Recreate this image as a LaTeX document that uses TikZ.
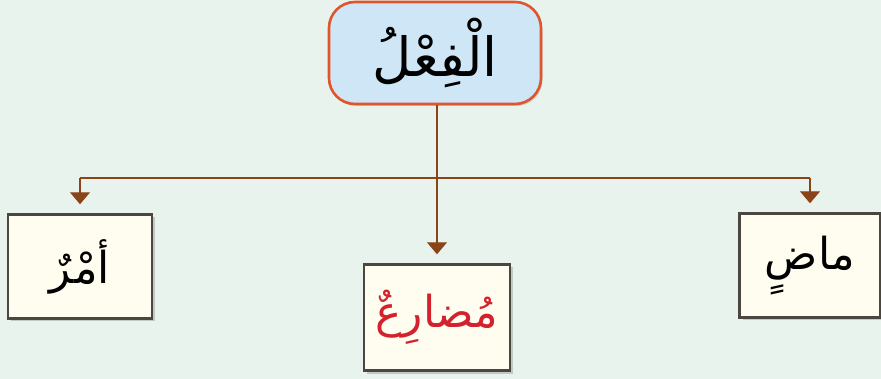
\documentclass[tikz,border=0pt]{standalone}
\usepackage{fontspec}
\usetikzlibrary{arrows.meta,shadows}
\newfontfamily\arabicfont[Script=Arabic]{DejaVu Sans}
\TeXXeTstate=1
\definecolor{bgcol}{HTML}{E9F3EE}
\definecolor{topfill}{HTML}{CFE6F6}
\definecolor{topdraw}{HTML}{E0552B}
\definecolor{boxfill}{HTML}{FFFDEF}
\definecolor{boxdraw}{HTML}{4C4641}
\definecolor{arrcol}{HTML}{8A4418}
\definecolor{redtext}{HTML}{D3222E}
\tikzset{
  topbox/.style={draw=topdraw, fill=topfill, line width=2.6pt, rounded corners=26pt,
    minimum width=212pt, minimum height=102pt, inner sep=0pt,
    drop shadow={shadow xshift=1.5pt, shadow yshift=-2pt, opacity=0.15, fill=black}},
  catbox/.style={draw=boxdraw, fill=boxfill, line width=2.4pt, inner sep=0pt,
    minimum width=144pt, minimum height=104pt,
    drop shadow={shadow xshift=3pt, shadow yshift=-3pt, opacity=0.25, fill=black!70}},
  conn/.style={draw=arrcol, line width=1.3pt},
  arr/.style={conn, -{Triangle[width=20pt,length=12pt]}, shorten >=9pt},
  artext/.style={font=\arabicfont\fontsize{44}{52}\selectfont}
}
\begin{document}
\begin{tikzpicture}[x=1pt,y=-1pt]
  \fill[bgcol] (0,0) rectangle (881,379);
  \useasboundingbox (0,0) rectangle (881,379);
  \node[topbox, font=\arabicfont\fontsize{54}{62}\selectfont] (top) at (435,53) {\beginR الْفِعْلُ\endR};
  \node[catbox, artext] (amr) at (80,266.5) {\beginR أمْرٌ\endR};
  \node[catbox, artext, text=redtext, minimum width=146pt, minimum height=106pt] (mud) at (437,317.5) {\beginR مُضارِعٌ\endR};
  \node[catbox, artext, minimum width=141pt] (mad) at (810,265.5) {\beginR ماضٍ\endR};
  \coordinate (hl) at (amr.north |- 0,178);
  \coordinate (hr) at (mad.north |- 0,178);
  \draw[conn] (hl) -- (hr);
  \draw[arr] (hl) -- (amr.north);
  \draw[arr] (hr) -- (mad.north);
  \draw[arr] (top.south -| mud.north) -- (mud.north);
\end{tikzpicture}
\end{document}
